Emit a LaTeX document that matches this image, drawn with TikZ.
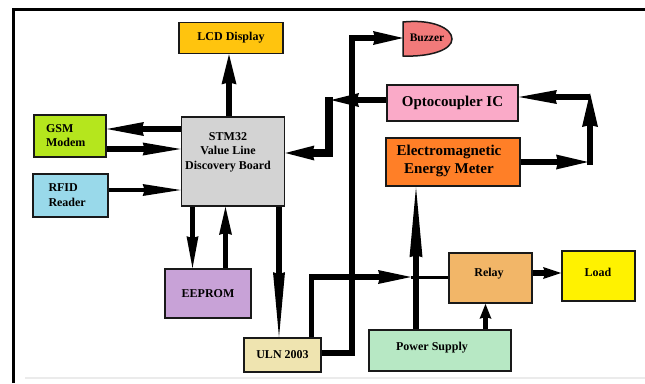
\documentclass[tikz,border=0pt]{standalone}
\usepackage{fontspec}
\setmainfont{Liberation Serif}
\usetikzlibrary{arrows.meta}
\definecolor{lcdc}{RGB}{255,196,14}
\definecolor{gsmc}{RGB}{181,230,29}
\definecolor{rfidc}{RGB}{153,217,234}
\definecolor{stmc}{RGB}{211,211,211}
\definecolor{eepc}{RGB}{200,162,215}
\definecolor{ulnc}{RGB}{239,228,176}
\definecolor{psc}{RGB}{183,232,196}
\definecolor{relc}{RGB}{242,182,104}
\definecolor{loadc}{RGB}{255,242,0}
\definecolor{optc}{RGB}{250,170,200}
\definecolor{metc}{RGB}{255,127,39}
\definecolor{buzc}{RGB}{242,122,122}
\begin{document}
\begin{tikzpicture}[x=1pt,y=-1pt,
  box/.style={draw=black!90, line width=1.8pt, inner sep=0pt, font=\fontsize{12}{14}\selectfont\bfseries},
  lbl/.style={inner sep=0pt, font=\fontsize{12}{14.5}\selectfont\bfseries, align=center},
  biglbl/.style={inner sep=0pt, font=\fontsize{15}{18}\selectfont\bfseries, align=center},
  wire/.style={line width=5.5pt},
  ah/.style 2 args={-{Stealth[length=#1,width=#2,inset=2pt,line width=0pt]}},
]
\useasboundingbox (0,0) rectangle (645,383);
% frame
\draw[line width=3pt] (13.5,383) -- (13.5,9.5) -- (645,9.5);
\draw[black!8, line width=1.5pt] (25,378) -- (645,378);

% boxes
\node[box, fill=lcdc, minimum width=104, minimum height=31] (lcd) at (231,38) {LCD Display};
\node[box, fill=gsmc, minimum width=72, minimum height=42, text width=48, inner xsep=12, align=left] (gsm) at (70,136) {GSM\\Modem};
\node[box, fill=rfidc, minimum width=75, minimum height=43, text width=44, inner xsep=15.5, align=left, font=\fontsize{12}{15}\selectfont\bfseries] (rfid) at (70.5,195.5) {RFID\\Reader};
\node[box, fill=stmc, minimum width=103, minimum height=89] (stm) at (233,161.5) {};
\node[lbl] (stmtext) at (228,152) {STM32\\Value Line\\Discovery Board};
\node[box, fill=eepc, minimum width=86, minimum height=49] (eeprom) at (208,293.5) {EEPROM};
\node[box, fill=ulnc, minimum width=77, minimum height=34] (uln) at (282.5,355) {ULN 2003};
\node[box, fill=psc, minimum width=142, minimum height=41] (ps) at (440,350.5) {};
\node[lbl] (pstext) at (432,348) {Power Supply};
\node[box, fill=relc, minimum width=83, minimum height=50] (relay) at (490.5,278) {};
\node[lbl] (relaytext) at (489,274) {Relay};
\node[box, fill=loadc, minimum width=73, minimum height=50] (load) at (598.5,276) {};
\node[lbl] (loadtext) at (598,272) {Load};
\node[box, fill=optc, minimum width=131, minimum height=36, font=\fontsize{15}{18}\selectfont\bfseries] (opto) at (452.5,103) {Optocoupler IC};
\node[box, fill=metc, line width=2.6pt, minimum width=134, minimum height=48] (meter) at (453,162) {};
\node[biglbl] (metertext) at (449,161) {Electromagnetic\\Energy Meter};
% buzzer
\coordinate (bz) at (403,38);
\draw[fill=buzc, draw=black!90, line width=1.5pt] (403,22) .. controls (432,19) and (452,28) .. (452,39) .. controls (452,50) and (430,57) .. (403,56) -- cycle;
\node[lbl, font=\fontsize{11.5}{14}\selectfont\bfseries] (buzzer) at (427,38) {Buzzer};

% connectors
\draw[wire, ah={30pt}{15pt}] (stm.north -| 229,0) -- (lcd.south -| 229,0);
\draw[wire, ah={37pt}{14pt}] (stm.west |- 0,129) -- (gsm.east |- 0,129);
\draw[wire, ah={38pt}{13pt}] (gsm.east |- 0,149) -- (stm.west |- 0,149);
\draw[wire, line width=4.5pt, ah={38pt}{12pt}] (rfid.east |- 0,190) -- (stm.west |- 0,190);
\draw[wire, ah={32pt}{12pt}] (stm.south -| 192.5,0) -- (eeprom.north -| 192.5,0);
\draw[wire, ah={28pt}{13pt}] (eeprom.north -| 225.5,0) -- (stm.south -| 225.5,0);
\draw[wire, ah={65pt}{12pt}] (stm.south -| 279,0) -- (uln.north -| 279,0);
\draw[wire, ah={30pt}{14pt}] (uln.east |- 0,353) -- (352,353) -- (352,38) -- (bz);
\coordinate (rmid) at (411,277);
\draw[wire, ah={33pt}{14pt}] (uln.north -| 311.5,0) -- (311.5,277) -- (rmid);
\draw[line width=3pt] (rmid) -- (relay.west |- 0,277);
\draw[wire, ah={70pt}{13pt}] (ps.north -| 416,0) -- (meter.south -| 416,0);
\draw[wire, ah={15pt}{12pt}] (ps.north -| 485.5,0) -- (relay.south -| 485.5,0);
\draw[wire, ah={18pt}{12pt}] (relay.east |- 0,273) -- (load.west |- 0,273);
% meter -> optocoupler loop
\coordinate (m1) at (588,162);
\coordinate (m2) at (590,165);
\coordinate (m3) at (590,93);
\coordinate (m4) at (590,97);
\draw[wire, line width=6pt, ah={32pt}{15pt}] (meter.east |- 0,162) -- (m1);
\draw[wire, line width=6pt, ah={34pt}{16pt}] (m2) -- (m3);
\draw[wire, line width=6pt, ah={38pt}{14pt}] (m4) -- (opto.east |- 0,97);
% optocoupler -> STM32
\coordinate (o1) at (331,100);
\coordinate (o2) at (329,97);
\draw[wire, line width=6pt, ah={28pt}{14pt}] (opto.west |- 0,100) -- (o1);
\draw[wire, line width=8pt, ah={29pt}{15pt}] (o2) -- (329,153) -- (stm.east |- 0,153);
\end{tikzpicture}
\end{document}
